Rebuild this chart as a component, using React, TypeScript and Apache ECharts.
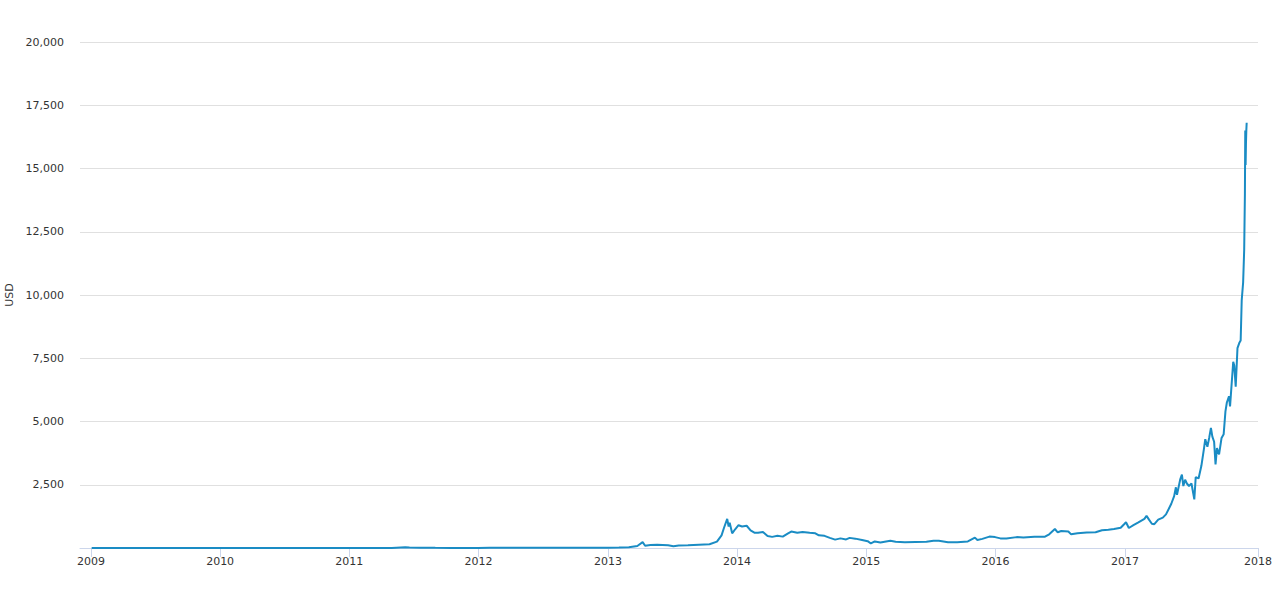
import React, { useEffect, useRef } from "react";
import * as echarts from "echarts";

const dates: string[] = [
  "2009-01-03", "2010-07-17", "2010-10-01", "2010-11-06", "2010-12-31",
  "2011-02-10", "2011-04-01", "2011-05-01", "2011-06-08", "2011-06-20",
  "2011-07-20", "2011-09-01", "2011-10-15", "2011-11-20", "2011-12-31",
  "2012-02-01", "2012-03-15", "2012-05-01", "2012-07-01", "2012-08-15",
  "2012-09-15", "2012-10-15", "2012-12-31",
  "2013-02-01", "2013-03-01", "2013-03-25", "2013-04-09", "2013-04-16",
  "2013-05-01", "2013-05-20", "2013-06-20", "2013-07-05", "2013-07-20",
  "2013-08-15", "2013-09-15", "2013-10-15", "2013-11-05", "2013-11-18",
  "2013-11-25", "2013-12-04", "2013-12-08", "2013-12-11", "2013-12-18",
  "2013-12-27",
  "2014-01-05", "2014-01-15", "2014-01-28", "2014-02-08", "2014-02-20",
  "2014-03-01", "2014-03-15", "2014-03-28", "2014-04-10", "2014-04-25",
  "2014-05-10", "2014-05-25", "2014-06-03", "2014-06-20", "2014-07-05",
  "2014-07-25", "2014-08-10", "2014-08-20", "2014-09-05", "2014-09-20",
  "2014-10-05", "2014-10-20", "2014-11-05", "2014-11-15", "2014-12-01",
  "2014-12-20",
  "2015-01-05", "2015-01-14", "2015-01-25", "2015-02-10", "2015-03-10",
  "2015-03-25", "2015-04-20", "2015-05-20", "2015-06-20", "2015-07-10",
  "2015-07-25", "2015-08-20", "2015-09-15", "2015-10-15", "2015-11-04",
  "2015-11-11", "2015-11-25", "2015-12-15", "2015-12-31",
  "2016-01-15", "2016-02-01", "2016-03-01", "2016-03-20", "2016-04-20",
  "2016-05-20", "2016-06-01", "2016-06-17", "2016-06-25", "2016-07-05",
  "2016-07-25", "2016-08-02", "2016-08-20", "2016-09-15", "2016-10-10",
  "2016-10-28", "2016-11-15", "2016-12-01", "2016-12-20", "2016-12-31",
  "2017-01-04", "2017-01-12", "2017-01-25", "2017-02-08", "2017-02-25",
  "2017-03-03", "2017-03-10", "2017-03-18", "2017-03-25", "2017-04-05",
  "2017-04-18", "2017-04-27", "2017-05-05", "2017-05-12", "2017-05-20",
  "2017-05-25", "2017-05-28", "2017-06-06", "2017-06-11", "2017-06-15",
  "2017-06-20", "2017-06-25", "2017-07-01", "2017-07-08", "2017-07-16",
  "2017-07-20", "2017-07-28", "2017-08-05", "2017-08-12", "2017-08-16",
  "2017-08-22", "2017-08-27", "2017-09-01", "2017-09-05", "2017-09-10",
  "2017-09-14", "2017-09-18", "2017-09-24", "2017-10-01", "2017-10-07",
  "2017-10-12", "2017-10-16", "2017-10-22", "2017-10-25", "2017-11-03",
  "2017-11-06", "2017-11-10", "2017-11-15", "2017-11-20", "2017-11-24",
  "2017-11-27", "2017-12-01", "2017-12-04", "2017-12-06", "2017-12-07",
  "2017-12-08", "2017-12-09", "2017-12-10", "2017-12-11"
];

const prices: number[] = [
  0, 0.05, 0.06, 0.3, 0.3,
  1.0, 0.8, 3.5, 30, 17,
  14, 8, 4, 2.5, 4.7,
  6, 5, 5, 6.7, 12,
  11, 11.8, 13.5,
  20, 34, 80, 230, 90,
  120, 125, 105, 72, 95,
  110, 130, 150, 250, 500,
  800, 1150, 850, 1000, 580,
  750,
  900, 850, 880, 700, 600,
  600, 630, 470, 440, 480,
  450, 580, 650, 600, 630,
  600, 580, 500, 480, 400,
  330, 380, 340, 400, 370,
  320,
  270, 180, 260, 220, 290,
  250, 225, 240, 245, 290,
  285, 230, 230, 260, 410,
  320, 360, 450, 430,
  380, 375, 430, 415, 445,
  445, 540, 750, 620, 670,
  655, 540, 580, 610, 620,
  700, 720, 750, 800, 960,
  1020, 790, 900, 1010, 1150,
  1270, 1120, 960, 940, 1120,
  1200, 1330, 1550, 1750, 2050,
  2400, 2100, 2700, 2900, 2450,
  2700, 2550, 2450, 2550, 1920,
  2800, 2750, 3250, 3900, 4300,
  4000, 4350, 4750, 4400, 4200,
  3300, 3950, 3700, 4350, 4500,
  5400, 5750, 6000, 5600, 7360,
  7200, 6380, 7900, 8100, 8200,
  9800, 10500, 11800, 14000, 16500,
  15140, 16000, 16500, 16810
];

const yTicks: number[] = [0, 2500, 5000, 7500, 10000, 12500, 15000, 17500, 20000];

export default function App() {
  const ref = useRef<HTMLDivElement>(null);
  useEffect(() => {
    if (!ref.current) return;
    const chart = echarts.init(ref.current, null, { renderer: "svg" });
    const data = dates.map((d, i) => [d, prices[i]]);
    chart.setOption({
      animation: false,
      backgroundColor: "#ffffff",
      grid: {
        left: 80,
        right: 22,
        top: 42,
        bottom: 43,
        containLabel: false,
        outerBoundsMode: "none",
      },
      xAxis: {
        type: "time",
        min: "2008-12-01",
        max: "2018-01-12",
        splitNumber: 9,
        minInterval: 365 * 24 * 3600 * 1000,
        axisLine: { lineStyle: { color: "#ccd6eb", width: 1 } },
        axisTick: { show: true, length: 9, lineStyle: { color: "#ccd6eb" } },
        axisLabel: {
          formatter: "{yyyy}",
          color: "#333333",
          fontSize: 11,
          fontFamily: "DejaVu Sans",
          margin: 8,
          showMinLabel: false,
          showMaxLabel: true,
        },
        splitLine: { show: false },
      },
      yAxis: {
        type: "value",
        min: yTicks[0],
        max: yTicks[yTicks.length - 1],
        interval: 2500,
        name: "USD",
        nameLocation: "middle",
        nameGap: 62,
        nameTextStyle: { color: "#333333", fontSize: 11, fontFamily: "DejaVu Sans" },
        axisLine: { show: false },
        axisTick: { show: false },
        axisLabel: {
          color: "#333333",
          fontSize: 11,
          fontFamily: "DejaVu Sans",
          margin: 16,
          formatter: (v: number) => (v === 0 ? "" : v.toLocaleString("en-US")),
        },
        splitLine: { lineStyle: { color: "#e0e0e0", width: 1 } },
      },
      series: [
        {
          type: "line",
          data,
          showSymbol: false,
          symbol: "none",
          lineStyle: { color: "#1a8cc4", width: 2 },
          itemStyle: { color: "#1a8cc4" },
          z: 3,
        },
      ],
    });
    return () => chart.dispose();
  }, []);
  return (
    <div
      ref={ref}
      style={{ position: "absolute", left: 0, top: 0, width: 1280, height: 591 }}
    />
  );
}
